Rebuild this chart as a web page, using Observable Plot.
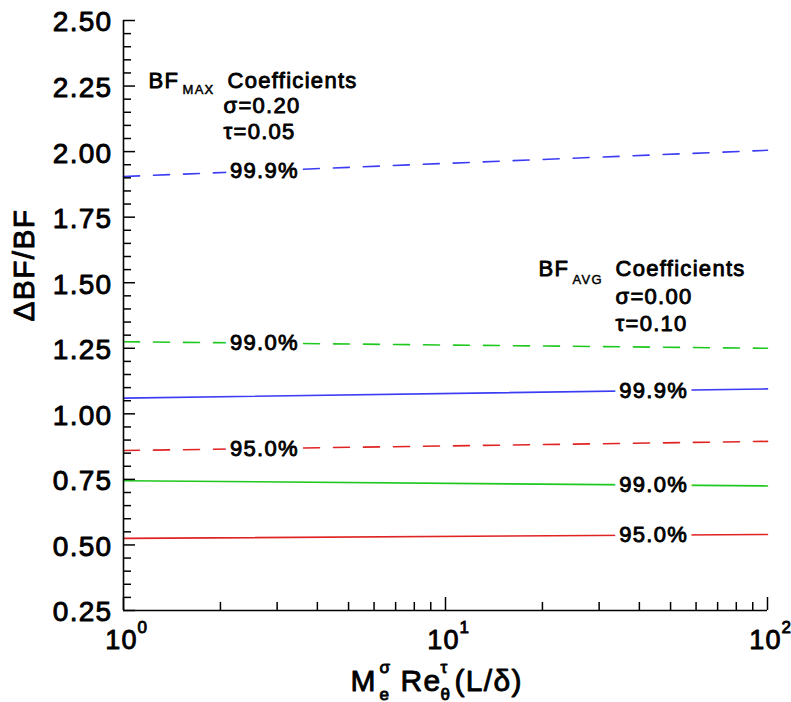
<!DOCTYPE html>
<html>
<head>
<meta charset="utf-8">
<script src="https://cdn.jsdelivr.net/npm/d3@7"></script>
<script src="https://cdn.jsdelivr.net/npm/@observablehq/plot@0.6"></script>
<style>
  body { margin: 0; background: #fff; }
  #chart svg { display: block; }
</style>
</head>
<body>
<div id="chart"></div>
<script>
// ---- data ----
const xEnds = [1, 100];
const levels = ["95.0%", "99.0%", "99.9%"];
const levelColors = ["#e02424", "#1ec81e", "#3c3cf5"];
// BF_MAX coefficients (dashed) values at x = 1 and x = 100
const maxStart = [0.86, 1.275, 1.905];
const maxEnd = [0.895, 1.25, 2.005];
// BF_AVG coefficients (solid) values at x = 1 and x = 100
const avgStart = [0.525, 0.745, 1.06];
const avgEnd = [0.54, 0.725, 1.095];
// where the level labels sit along the lines
const maxLabelX = 2.74;
const avgLabelX = 44.3;
// axis ticks
const yMajorTicks = [0.25, 0.5, 0.75, 1.0, 1.25, 1.5, 1.75, 2.0, 2.25, 2.5];
const yTickLabels = ["0.25", "0.50", "0.75", "1.00", "1.25", "1.50", "1.75", "2.00", "2.25", "2.50"];
const yMinorTicks = d3.range(5, 51).filter(i => i % 5 !== 0).map(i => i * 0.05);
const xMajorTicks = [1, 10, 100];
const xTickBase = ["10", "10", "10"];
const xTickExp = ["0", "1", "2"];
const xMinorTicks = [2, 3, 4, 5, 6, 7, 8, 9, 20, 30, 40, 50, 60, 70, 80, 90];

// ---- derived tables ----
const maxRows = [], avgRows = [], labelRows = [];
const at = (a, b, x) => a + (b - a) * Math.log10(x) / Math.log10(xEnds[1]);
levels.forEach((lv, i) => {
  maxRows.push({level: lv, x: xEnds[0], y: maxStart[i]}, {level: lv, x: xEnds[1], y: maxEnd[i]});
  avgRows.push({level: lv, x: xEnds[0], y: avgStart[i]}, {level: lv, x: xEnds[1], y: avgEnd[i]});
  labelRows.push({level: lv, x: maxLabelX, y: at(maxStart[i], maxEnd[i], maxLabelX)});
  labelRows.push({level: lv, x: avgLabelX, y: at(avgStart[i], avgEnd[i], avgLabelX)});
});

const W = 791, H = 702, mL = 123, mR = 24, mT = 20, mB = 92;
const plotW = W - mL - mR, plotH = H - mT - mB;
const FONT = "'Liberation Sans', Arial, Helvetica, sans-serif";
const txt = (data, opts) => Plot.text(data, {fill: "black", stroke: "black", strokeWidth: 0.9, fontFamily: FONT, ...opts});

const chart = Plot.plot({
  width: W, height: H,
  marginLeft: mL, marginRight: mR, marginTop: mT, marginBottom: mB,
  x: {type: "log", domain: [1, 100], axis: null},
  y: {domain: [0.25, 2.5], axis: null},
  color: {domain: levels, range: levelColors},
  style: {fontFamily: FONT, background: "white", overflow: "visible", letterSpacing: "1.3px"},
  marks: [
    Plot.line(maxRows, {x: "x", y: "y", z: "level", stroke: "level", strokeWidth: 1.6, strokeDasharray: "16,14"}),
    Plot.line(avgRows, {x: "x", y: "y", z: "level", stroke: "level", strokeWidth: 1.6}),
    // white halo that breaks the lines behind the level labels
    Plot.text(labelRows, {x: "x", y: "y", text: "level", fontFamily: FONT, fontSize: 22, fill: "white", stroke: "white", strokeWidth: 11, strokeLinejoin: "round"}),
    txt(labelRows, {x: "x", y: "y", text: "level", fontSize: 22}),
    // axes
    Plot.ruleX([1], {stroke: "black", strokeWidth: 1.6}),
    Plot.ruleY([0.25], {stroke: "black", strokeWidth: 1.6}),
    Plot.tickY(yMajorTicks, {y: d => d, insetRight: plotW - 12, stroke: "black", strokeWidth: 1.5}),
    Plot.tickY(yMinorTicks, {y: d => d, insetRight: plotW - 8, stroke: "black", strokeWidth: 1.5}),
    Plot.tickX(xMajorTicks, {x: d => d, insetTop: plotH - 13, stroke: "black", strokeWidth: 1.5}),
    Plot.tickX(xMinorTicks, {x: d => d, insetTop: plotH - 8, stroke: "black", strokeWidth: 1.5}),
    // y tick labels
    txt(yMajorTicks, {y: d => d, frameAnchor: "left", text: (d, i) => yTickLabels[i], textAnchor: "end", dx: -11, dy: 2, fontSize: 28}),
    // x tick labels 10^n
    txt(xMajorTicks, {x: d => d, frameAnchor: "bottom", text: (d, i) => xTickBase[i], lineAnchor: "bottom", dy: 38, dx: -2, fontSize: 27}),
    txt(xMajorTicks, {x: d => d, frameAnchor: "bottom", text: (d, i) => xTickExp[i], textAnchor: "start", lineAnchor: "bottom", dy: 22, dx: 14, fontSize: 17}),
    // y axis title
    txt(["ΔBF/BF"], {frameAnchor: "left", text: d => d, rotate: -90, dx: -99, dy: 6, fontSize: 30}),
    // x axis title: M_e^σ Re_θ^τ (L/δ)
    txt(["M"], {frameAnchor: "bottom", text: d => d, textAnchor: "start", lineAnchor: "bottom", dx: -95, dy: 80, fontSize: 30}),
    txt(["e"], {frameAnchor: "bottom", text: d => d, textAnchor: "start", lineAnchor: "bottom", dx: -66, dy: 89, fontSize: 17}),
    txt(["σ"], {frameAnchor: "bottom", text: d => d, textAnchor: "start", lineAnchor: "bottom", dx: -66, dy: 62, fontSize: 17}),
    txt(["Re"], {frameAnchor: "bottom", text: d => d, textAnchor: "start", lineAnchor: "bottom", dx: -45, dy: 80, fontSize: 30}),
    txt(["θ"], {frameAnchor: "bottom", text: d => d, textAnchor: "start", lineAnchor: "bottom", dx: -5, dy: 89, fontSize: 17}),
    txt(["τ"], {frameAnchor: "bottom", text: d => d, textAnchor: "start", lineAnchor: "bottom", dx: -5, dy: 62, fontSize: 17}),
    txt(["(L/δ)"], {frameAnchor: "bottom", text: d => d, textAnchor: "start", lineAnchor: "bottom", dx: 9, dy: 80, fontSize: 30}),
    // BF_MAX annotation
    txt(["BF"], {frameAnchor: "top-left", text: d => d, textAnchor: "start", lineAnchor: "bottom", dx: 25, dy: 67, fontSize: 22}),
    txt(["MAX"], {frameAnchor: "top-left", text: d => d, textAnchor: "start", lineAnchor: "bottom", dx: 59, dy: 73, fontSize: 13, strokeWidth: 0.5}),
    txt(["Coefficients"], {frameAnchor: "top-left", text: d => d, textAnchor: "start", lineAnchor: "bottom", dx: 104, dy: 67, fontSize: 22}),
    txt(["σ=0.20"], {frameAnchor: "top-left", text: d => d, textAnchor: "start", lineAnchor: "bottom", dx: 100, dy: 92, fontSize: 22}),
    txt(["τ=0.05"], {frameAnchor: "top-left", text: d => d, textAnchor: "start", lineAnchor: "bottom", dx: 100, dy: 118, fontSize: 22}),
    // BF_AVG annotation
    txt(["BF"], {frameAnchor: "top-left", text: d => d, textAnchor: "start", lineAnchor: "bottom", dx: 415, dy: 255, fontSize: 22}),
    txt(["AVG"], {frameAnchor: "top-left", text: d => d, textAnchor: "start", lineAnchor: "bottom", dx: 449, dy: 263, fontSize: 13, strokeWidth: 0.5}),
    txt(["Coefficients"], {frameAnchor: "top-left", text: d => d, textAnchor: "start", lineAnchor: "bottom", dx: 492, dy: 255, fontSize: 22}),
    txt(["σ=0.00"], {frameAnchor: "top-left", text: d => d, textAnchor: "start", lineAnchor: "bottom", dx: 492, dy: 283, fontSize: 22}),
    txt(["τ=0.10"], {frameAnchor: "top-left", text: d => d, textAnchor: "start", lineAnchor: "bottom", dx: 492, dy: 310, fontSize: 22})
  ]
});
document.getElementById("chart").appendChild(chart);
</script>
</body>
</html>
